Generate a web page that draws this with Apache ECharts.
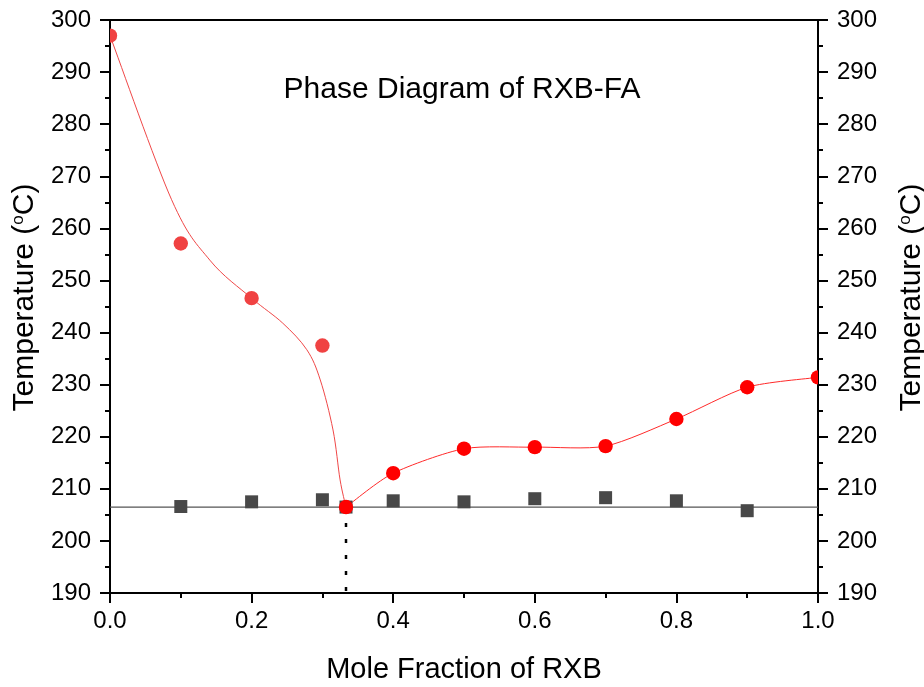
<!DOCTYPE html>
<html>
<head>
<meta charset="utf-8">
<script src="https://cdn.jsdelivr.net/npm/echarts@6/dist/echarts.min.js"></script>
<style>
  html, body { margin: 0; padding: 0; background: #fff; overflow: hidden; }
  #chart { width: 924px; height: 687px; }
</style>
</head>
<body>
<div id="chart"></div>
<script>
// Liquidus on the FA-rich side (measured melting points)
const xLiqFA = [0, 0.1, 0.2, 0.3];
const tLiqFA = [297.0, 257.1, 246.6, 237.5];

// Liquidus on the RXB-rich side, starting at the eutectic composition
const xLiqRXB = [1 / 3, 0.4, 0.5, 0.6, 0.7, 0.8, 0.9, 1.0];
const tLiqRXB = [206.5, 213.0, 217.7, 218.0, 218.2, 223.4, 229.5, 231.4];

// Solidus (eutectic melting) points
const xSol = [0.1, 0.2, 0.3, 1 / 3, 0.4, 0.5, 0.6, 0.7, 0.8, 0.9];
const tSol = [206.6, 207.5, 207.9, 206.5, 207.7, 207.5, 208.1, 208.3, 207.7, 205.8];

// Smoothed fit of the FA-side liquidus
const xFitFA = [0, 0.087, 0.141, 0.200, 0.244, 0.278, 0.297, 0.315, 0.325, 1 / 3];
const tFitFA = [297.0, 265.5, 253.9, 246.6, 241.8, 236.7, 230.9, 221.3, 211.7, 206.5];

// Eutectic temperature and composition
const eutecticX = 1 / 3;
const eutecticT = 206.5;

// Axis ranges and ticks
const xMin = 0, xMax = 1.0, xStep = 0.2;
const tMin = 190, tMax = 300, tStep = 10;

const zip = (xs, ys) => xs.map((x, i) => [x, ys[i]]);

const FONT = 'Liberation Sans, Arial, sans-serif';

const gridClip = (cs) => ({ type: 'rect', shape: { x: cs.x, y: cs.y, width: cs.width, height: cs.height } });

// Filled circle markers, clipped at the plot frame
const circleSeries = (name, xs, ys, color) => ({
  name,
  type: 'custom',
  coordinateSystem: 'cartesian2d',
  z: 5,
  encode: { x: 0, y: 1 },
  data: zip(xs, ys),
  renderItem: (params, api) => {
    const p = api.coord([api.value(0), api.value(1)]);
    return {
      type: 'group',
      clipPath: gridClip(params.coordSys),
      children: [{
        type: 'circle',
        shape: { cx: p[0], cy: p[1], r: 7.2 },
        style: { fill: color }
      }]
    };
  }
});

// Smooth curve through the given points (Catmull-Rom segments as cubic Beziers);
// `tension` scales the tangent length
const splineSeries = (name, xs, ys, color, tension) => ({
  name,
  type: 'custom',
  coordinateSystem: 'cartesian2d',
  z: 2,
  encode: { x: 0, y: 1 },
  data: [[xs[0], ys[0]]],
  renderItem: (params, api) => {
    const pts = xs.map((x, i) => api.coord([x, ys[i]]));
    const n = pts.length;
    const k = tension / 6;
    let d = `M${pts[0][0]} ${pts[0][1]}`;
    for (let i = 0; i < n - 1; i++) {
      const p0 = pts[Math.max(i - 1, 0)];
      const p1 = pts[i];
      const p2 = pts[i + 1];
      const p3 = pts[Math.min(i + 2, n - 1)];
      const c1 = [p1[0] + (p2[0] - p0[0]) * k, p1[1] + (p2[1] - p0[1]) * k];
      const c2 = [p2[0] - (p3[0] - p1[0]) * k, p2[1] - (p3[1] - p1[1]) * k];
      d += ` C${c1[0]} ${c1[1]} ${c2[0]} ${c2[1]} ${p2[0]} ${p2[1]}`;
    }
    return {
      type: 'path',
      clipPath: gridClip(params.coordSys),
      shape: { pathData: d },
      style: { fill: 'none', stroke: color, lineWidth: 1 }
    };
  }
});

const yAxisBase = (pos) => ({
  type: 'value',
  position: pos,
  min: tMin, max: tMax, interval: tStep,
  name: 'Temperature ({sup|o}C)',
  nameLocation: 'middle',
  nameRotate: 90,
  nameTextStyle: {
    fontFamily: FONT, fontSize: 30, color: '#000',
    padding: [0, 0, 0, 18],
    rich: { sup: { fontFamily: FONT, fontSize: 17, verticalAlign: 'top', padding: [0, 0, 13, 0], color: '#000' } }
  },
  axisLine: { show: true, onZero: false, lineStyle: { color: '#000', width: 2 } },
  axisTick: { show: true, inside: false, length: 10, lineStyle: { color: '#000', width: 2 } },
  minorTick: { show: true, splitNumber: 2, length: 5, lineStyle: { color: '#000', width: 2 } },
  axisLabel: { fontFamily: FONT, fontSize: 24, color: '#000', margin: 19 },
  splitLine: { show: false }
});

const chart = echarts.init(document.getElementById('chart'), null, { renderer: 'canvas' });

chart.setOption({
  backgroundColor: '#fff',
  animation: false,
  title: {
    text: 'Phase Diagram of RXB-FA',
    left: 'center',
    top: 70,
    textStyle: { fontFamily: FONT, fontSize: 30, fontWeight: 'normal', color: '#000' }
  },
  grid: { left: 110, right: 106, top: 20, bottom: 94, containLabel: false, outerBoundsMode: 'none' },
  xAxis: [{
    type: 'value',
    position: 'bottom',
    min: xMin, max: xMax, interval: xStep,
    name: 'Mole Fraction of RXB',
    nameLocation: 'middle',
    nameGap: 62,
    nameTextStyle: { fontFamily: FONT, fontSize: 29, color: '#000' },
    axisLine: { show: true, onZero: false, lineStyle: { color: '#000', width: 2 } },
    axisTick: { show: true, length: 10, lineStyle: { color: '#000', width: 2 } },
    minorTick: { show: true, splitNumber: 2, length: 5, lineStyle: { color: '#000', width: 2 } },
    axisLabel: { fontFamily: FONT, fontSize: 24, color: '#000', margin: 16, formatter: v => v.toFixed(1) },
    splitLine: { show: false }
  }, {
    type: 'value',
    position: 'top',
    min: xMin, max: xMax, interval: xStep,
    axisLine: { show: true, onZero: false, lineStyle: { color: '#000', width: 2 } },
    axisTick: { show: false },
    axisLabel: { show: false },
    splitLine: { show: false }
  }],
  yAxis: [
    Object.assign(yAxisBase('left'), { nameGap: 66 }),
    Object.assign(yAxisBase('right'), { nameGap: 79 })
  ],
  series: [
    {
      name: 'eutectic line',
      type: 'line',
      z: 1,
      data: [[xMin, eutecticT], [xMax, eutecticT]],
      symbol: 'none',
      lineStyle: { color: '#555', width: 1.2 }
    },
    {
      name: 'eutectic composition',
      type: 'line',
      z: 1,
      data: [[eutecticX, eutecticT], [eutecticX, tMin]],
      symbol: 'none',
      lineStyle: { color: '#000', width: 2.5, type: [4, 12] }
    },
    splineSeries('FA-side fit', xFitFA, tFitFA, '#f04848', 1),
    splineSeries('RXB-side fit', xLiqRXB, tLiqRXB, '#ff2a2a', 0.75),
    {
      name: 'Solidus',
      type: 'scatter',
      z: 3,
      data: zip(xSol, tSol),
      symbol: 'rect',
      symbolSize: 13,
      itemStyle: { color: '#484848', opacity: 1 }
    },
    circleSeries('Liquidus FA side', xLiqFA, tLiqFA, '#f04242'),
    circleSeries('Liquidus RXB side', xLiqRXB, tLiqRXB, '#ff0000')
  ]
});
</script>
</body>
</html>
